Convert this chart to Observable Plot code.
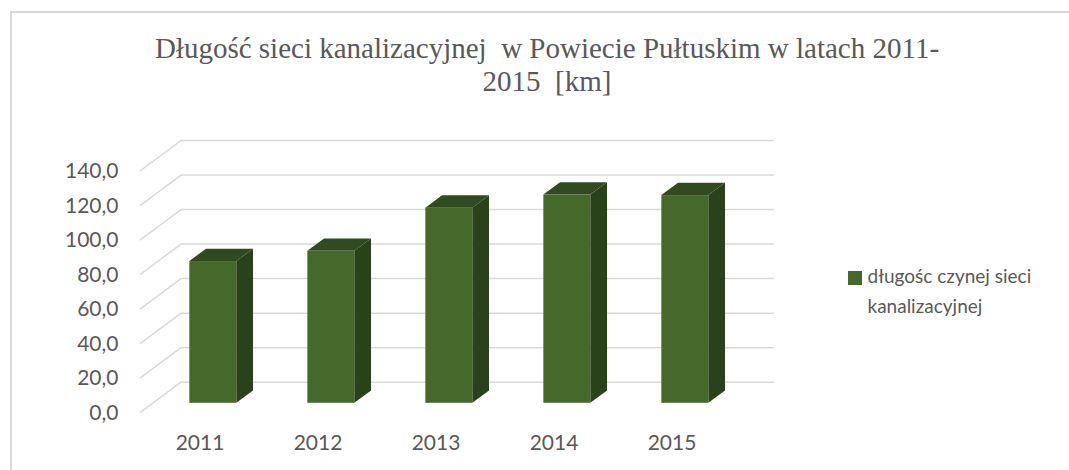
<!DOCTYPE html>
<html>
<head>
<meta charset="utf-8">
<script src="https://cdn.jsdelivr.net/npm/d3@7"></script>
<script src="https://cdn.jsdelivr.net/npm/@observablehq/plot@0.6"></script>
<style>
  html, body { margin: 0; padding: 0; background: #fff; }
  #wrap { position: relative; width: 1069px; height: 470px; overflow: hidden; }
  #frame { position: absolute; left: 10px; top: 11px; width: 1200px; height: 600px;
           border-left: 2px solid #d9d9d9; border-top: 2px solid #d9d9d9; }
  #title { position: absolute; left: 0; top: 31.7px; width: 1094px; text-align: center;
           font-family: "Liberation Serif", "Times New Roman", serif; font-size: 29px;
           line-height: 33px; color: #595959; white-space: pre; }
  #legend { position: absolute; left: 848px; top: 260.6px; font-family: Lato, sans-serif;
            font-size: 19px; line-height: 30.7px; color: #595959; white-space: pre; }
  #legend .sw { position: absolute; left: 0; top: 10.4px; width: 14px; height: 14px; background: #45692b; }
  #legend .tx { position: absolute; left: 19.5px; top: 0; }
  #chart { position: absolute; left: 0; top: 0; }
</style>
</head>
<body>
<div id="wrap">
  <div id="frame"></div>
  <div id="chart"></div>
  <div id="title">Długość sieci kanalizacyjnej  w Powiecie Pułtuskim w latach 2011-
2015  [km]</div>
  <div id="legend"><div class="sw"></div><div class="tx">długośc czynej sieci
kanalizacyjnej</div></div>
</div>
<script>
const years = ["2011", "2012", "2013", "2014", "2015"];
const values = [82.1, 88.0, 113.0, 120.6, 120.3];
const yTicks = [0, 20, 40, 60, 80, 100, 120, 140];

const data = years.map((year, i) => ({year, value: values[i]}));

// oblique depth projection (pixels for full depth of the floor)
const DX = 41.7, DY = -31;
const D0 = 0.32, D1 = 0.72; // bar front / back depth fractions
const FRONT = "#45692b", SIDE = "#2a421a", TOP = "#304b1f", GRID = "#d9d9d9";

function diagonals(index, scales, values, dims) {
  const g = d3.create("svg:g");
  const x0 = dims.marginLeft;
  for (const v of yTicks) {
    const yv = scales.y(v);
    g.append("line")
      .attr("x1", x0).attr("y1", yv)
      .attr("x2", x0 + DX).attr("y2", yv + DY)
      .attr("stroke", GRID).attr("stroke-width", 1.5);
  }
  return g.node();
}

function barSides(index, scales) {
  const {x, y} = scales;
  const bw = x.bandwidth();
  const ox0 = DX * D0, oy0 = DY * D0, ox1 = DX * D1, oy1 = DY * D1;
  const g = d3.create("svg:g");
  const y0 = y(0);
  for (const d of data) {
    const xl = x(d.year), xr = xl + bw, yv = y(d.value);
    g.append("polygon")
      .attr("points", [[xr + ox0, yv + oy0], [xr + ox1, yv + oy1], [xr + ox1, y0 + oy1], [xr + ox0, y0 + oy0]].join(" "))
      .attr("fill", SIDE);
    g.append("polygon")
      .attr("points", [[xl + ox0, yv + oy0], [xl + ox1, yv + oy1], [xr + ox1, yv + oy1], [xr + ox0, yv + oy0]].join(" "))
      .attr("fill", TOP);
  }
  return g.node();
}

const chart = Plot.plot({
  width: 1069,
  height: 470,
  marginLeft: 140,
  marginRight: 337,
  marginTop: 171,
  marginBottom: 57.3,
  style: {fontFamily: "Lato, sans-serif", fontSize: "21px", color: "#595959", background: "transparent", overflow: "visible"},
  x: {type: "band", domain: years, paddingInner: 0.6, paddingOuter: 0.3, label: null},
  y: {domain: [0, 140], label: null},
  marks: [
    Plot.ruleY(yTicks, {stroke: GRID, strokeWidth: 1.5, dx: DX, dy: DY}),
    diagonals,
    Plot.barY(data, {x: "year", y: "value", fill: FRONT, dx: DX * D0, dy: DY * D0, inset: 0}),
    barSides,
    Plot.axisY({ticks: yTicks, tickFormat: d => d.toFixed(1).replace(".", ","), tickSize: 0, tickPadding: 22, label: null}),
    Plot.axisX({tickSize: 0, tickPadding: 22, label: null})
  ]
});
document.getElementById("chart").appendChild(chart);
</script>
</body>
</html>
